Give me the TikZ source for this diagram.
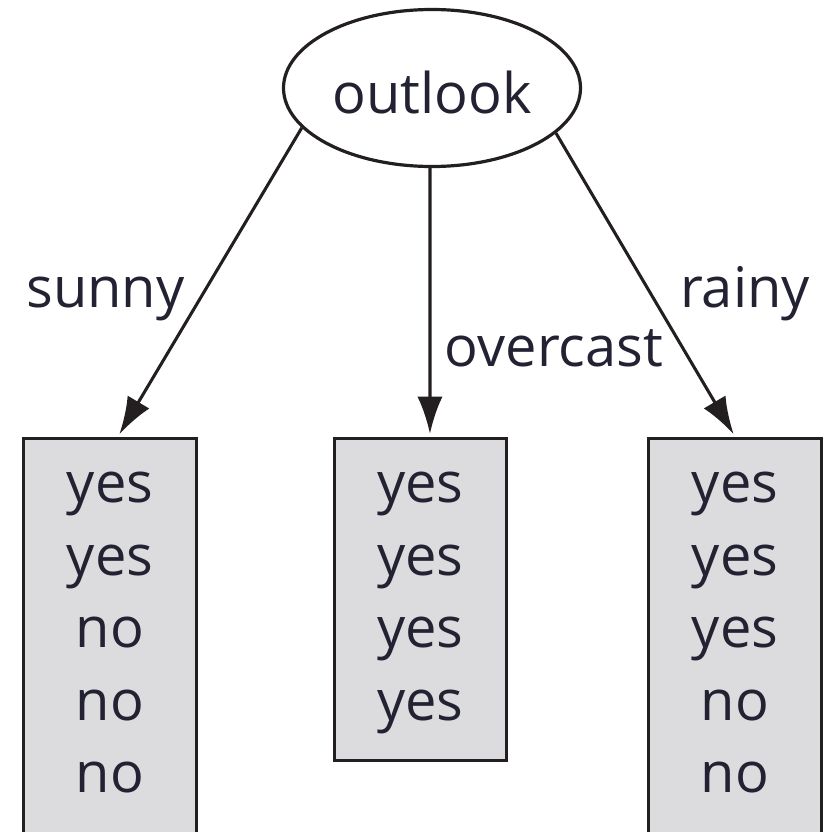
\documentclass[tikz,border=0pt]{standalone}
\usepackage{fontspec}
\setmainfont{Open Sans}
\usetikzlibrary{arrows.meta,shapes.geometric}
\definecolor{ink}{HTML}{231F20}
\definecolor{txt}{HTML}{222233}
\definecolor{leaffill}{HTML}{DCDCDE}

\begin{document}
\begin{tikzpicture}[x=0.75pt,y=-0.75pt,
  every node/.style={font=\fontsize{42}{54.4}\selectfont, text=txt},
  rootnode/.style={draw=ink, line width=2.4pt, ellipse, minimum width=222.75pt,
    minimum height=117.75pt, inner sep=0pt, text height=43.5pt, text depth=6pt},
  leafbox/.style={draw=ink, fill=leaffill, line width=2.6pt, rectangle,
    inner sep=0pt, anchor=north},
  rows/.style={align=center, inner sep=0pt, anchor=north, yshift=-26.6pt},
  branch/.style={draw=ink, line width=2.3pt, shorten >=2pt,
    -{Latex[length=28pt,width=19pt]}},
  edgelabel/.style={anchor=base, inner sep=0pt}
]
\useasboundingbox (0,0) rectangle (836,832);
\clip (0,0) rectangle (836,832);

% root test
\node[rootnode] (outlook) at (432,88) {outlook};

% leaf boxes (left and right run past the lower edge)
\node[leafbox, minimum width=129.75pt, minimum height=375pt] (sunnybox) at (110,436.5) {};
\node[leafbox, minimum width=129pt, minimum height=241.5pt] (overbox) at (420.5,436.5) {};
\node[leafbox, minimum width=129.75pt, minimum height=375pt] (rainbox) at (735,436.5) {};

% class values in each leaf
\node[rows] (sunnyrows) at (sunnybox.north) {yes\\yes\\no\\no\\no};
\node[rows] (overrows) at (overbox.north) {yes\\yes\\yes\\yes};
\node[rows] (rainrows) at (rainbox.north) {yes\\yes\\yes\\no\\no};

% branches
\draw[branch] (outlook.197) -- ([xshift=6pt]sunnybox.north);
\draw[branch] ([xshift=-1.5pt]outlook.south) -- ([xshift=7.1pt]overbox.north);
\draw[branch] (outlook.340.6) -- (rainbox.north);

% branch labels
\node[edgelabel] (lsunny) at (105.5,307) {sunny};
\node[edgelabel] (lovercast) at (554,366) {overcast};
\node[edgelabel] (lrainy) at (745,307) {rainy};
\end{tikzpicture}
\end{document}
